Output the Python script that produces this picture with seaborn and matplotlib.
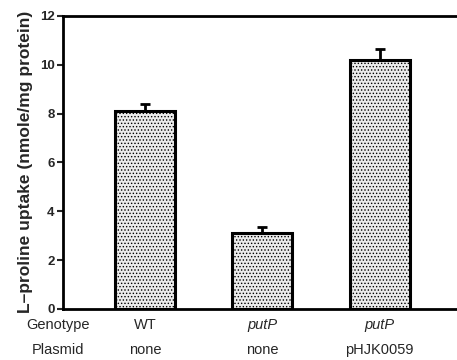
import matplotlib
matplotlib.use("Agg")
import matplotlib.pyplot as plt
import seaborn as sns
import pandas as pd

genotypes = ["WT", "putP", "putP"]
plasmids = ["none", "none", "pHJK0059"]
uptake = [8.1, 3.1, 10.2]
uptake_err = [0.3, 0.25, 0.45]
y_ticks = [0, 2, 4, 6, 8, 10, 12]

sns.set_theme(style="white")
plt.rcParams["font.family"] = ["Liberation Sans", "DejaVu Sans"]
plt.rcParams["hatch.color"] = "#b4b4b4"
plt.rcParams["hatch.linewidth"] = 0.6

df = pd.DataFrame({"pos": [0, 1, 2], "uptake": uptake})

fig = plt.figure(figsize=(4.57, 3.60), dpi=100)
ax = fig.add_axes([0.138, 0.142, 0.862, 0.814])

sns.barplot(data=df, x="pos", y="uptake", ax=ax, color="#ececec",
            width=0.51, edgecolor="black", linewidth=2.2, saturation=1)
for p in ax.patches:
    p.set_hatch(".....")
    p.set_facecolor("#ececec")
    p.set_edgecolor("black")

ax.errorbar([0, 1, 2], uptake, yerr=[[0, 0, 0], uptake_err], fmt="none",
            ecolor="black", elinewidth=2, capsize=3.6, capthick=2)

ax.set_xlim(-0.70, 2.66)
ax.set_ylim(0, 12)
ax.set_yticks(y_ticks)
ax.set_yticklabels([str(t) for t in y_ticks], fontweight="bold", fontsize=9.5)
ax.tick_params(axis="y", direction="out", length=4, width=1.5, left=True, pad=2)
ax.set_xticks([])
ax.set_xlabel("")
ax.set_ylabel("L\u2013proline uptake (nmole/mg protein)", fontweight="bold",
              fontsize=12.5, labelpad=5)

for side in ["left", "bottom", "top"]:
    ax.spines[side].set_visible(True)
    ax.spines[side].set_linewidth(2)
    ax.spines[side].set_color("black")
ax.spines["right"].set_visible(False)

trans = ax.get_xaxis_transform()
for i, (g, pl) in enumerate(zip(genotypes, plasmids)):
    ax.text(i, -0.055, g, transform=trans, ha="center", va="center",
            fontsize=10.5, style="normal" if g == "WT" else "italic")
    ax.text(i, -0.14, pl, transform=trans, ha="center", va="center", fontsize=10.5)

fig.text(58 / 457, 1 - 325 / 360, "Genotype", ha="center", va="center", fontsize=10.5)
fig.text(58 / 457, 1 - 350 / 360, "Plasmid", ha="center", va="center", fontsize=10.5)

fig.savefig("out.png", dpi=100)
